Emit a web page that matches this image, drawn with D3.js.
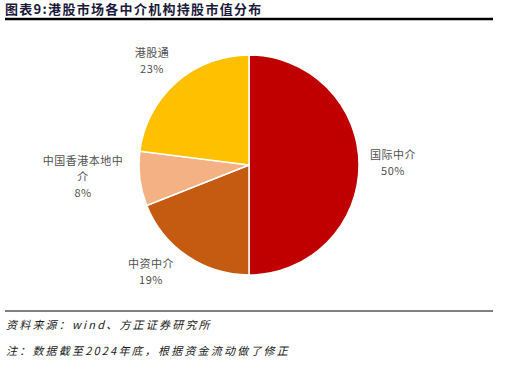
<!DOCTYPE html>
<html>
<head>
<meta charset="utf-8">
<script src="https://cdn.jsdelivr.net/npm/d3@7"></script>
<style>
  body { margin: 0; background: #fff; }
  text { font-family: "Noto Sans CJK SC", "Noto Sans", sans-serif; }
</style>
</head>
<body>
<script>
// data (clockwise from 12 o'clock)
const categories = ['国际中介', '中资中介', '中国香港本地中介', '港股通']
const shares = [50, 19, 8, 23]
const sliceColors = ['#C00000', '#C55A11', '#F4B183', '#FFC000']
// label lines, as wrapped in the picture
const labelLines = [['国际中介', '50%'], ['中资中介', '19%'], ['中国香港本地中', '介', '8%'], ['港股通', '23%']]
const labelPos = [[393, 159], [151, 268], [83, 165], [152, 57]]

const width = 530, height = 386
const cx = 249, cy = 165, radius = 110

const svg = d3.select('body').append('svg')
  .attr('width', width).attr('height', height)

// title + rules
svg.append('text')
  .attr('x', 5).attr('y', 14)
  .style('font-size', '13px').style('font-weight', 'bold')
  .style('letter-spacing', '1.3px')
  .style('fill', '#1a1a3a')
  .text('图表9:港股市场各中介机构持股市值分布')
svg.append('line').attr('x1', 5).attr('x2', 493).attr('y1', 19).attr('y2', 19)
  .attr('stroke', '#000').attr('stroke-width', 2.5)
svg.append('line').attr('x1', 5).attr('x2', 493).attr('y1', 311).attr('y2', 311)
  .attr('stroke', '#000').attr('stroke-width', 1)

// pie
const pie = d3.pie().sort(null).value(d => d)
const arc = d3.arc().innerRadius(0).outerRadius(radius)
const g = svg.append('g').attr('transform', `translate(${cx},${cy})`)
g.selectAll('path')
  .data(pie(shares))
  .enter()
  .append('path')
  .attr('d', arc)
  .attr('fill', (d, i) => sliceColors[i])
  .attr('stroke', '#fff')
  .attr('stroke-width', 1.5)

// labels
categories.forEach((c, i) => {
  const t = svg.append('text')
    .attr('text-anchor', 'middle')
    .style('font-size', '11px')
    .style('letter-spacing', '0.5px')
    .style('fill', '#505050')
  labelLines[i].forEach((ln, j) => {
    t.append('tspan')
      .attr('x', labelPos[i][0])
      .attr('y', labelPos[i][1] + j * 16)
      .text(ln)
  })
})

// footnotes
const notes = ['资料来源：wind、方正证券研究所', '注：数据截至2024年底，根据资金流动做了修正']
notes.forEach((n, i) => {
  svg.append('text')
    .attr('x', 6).attr('y', 329 + i * 26)
    .style('font-size', '11px').style('font-style', 'italic')
    .style('letter-spacing', '2.2px')
    .style('fill', '#1a1a1a')
    .text(n)
})
</script>
</body>
</html>
